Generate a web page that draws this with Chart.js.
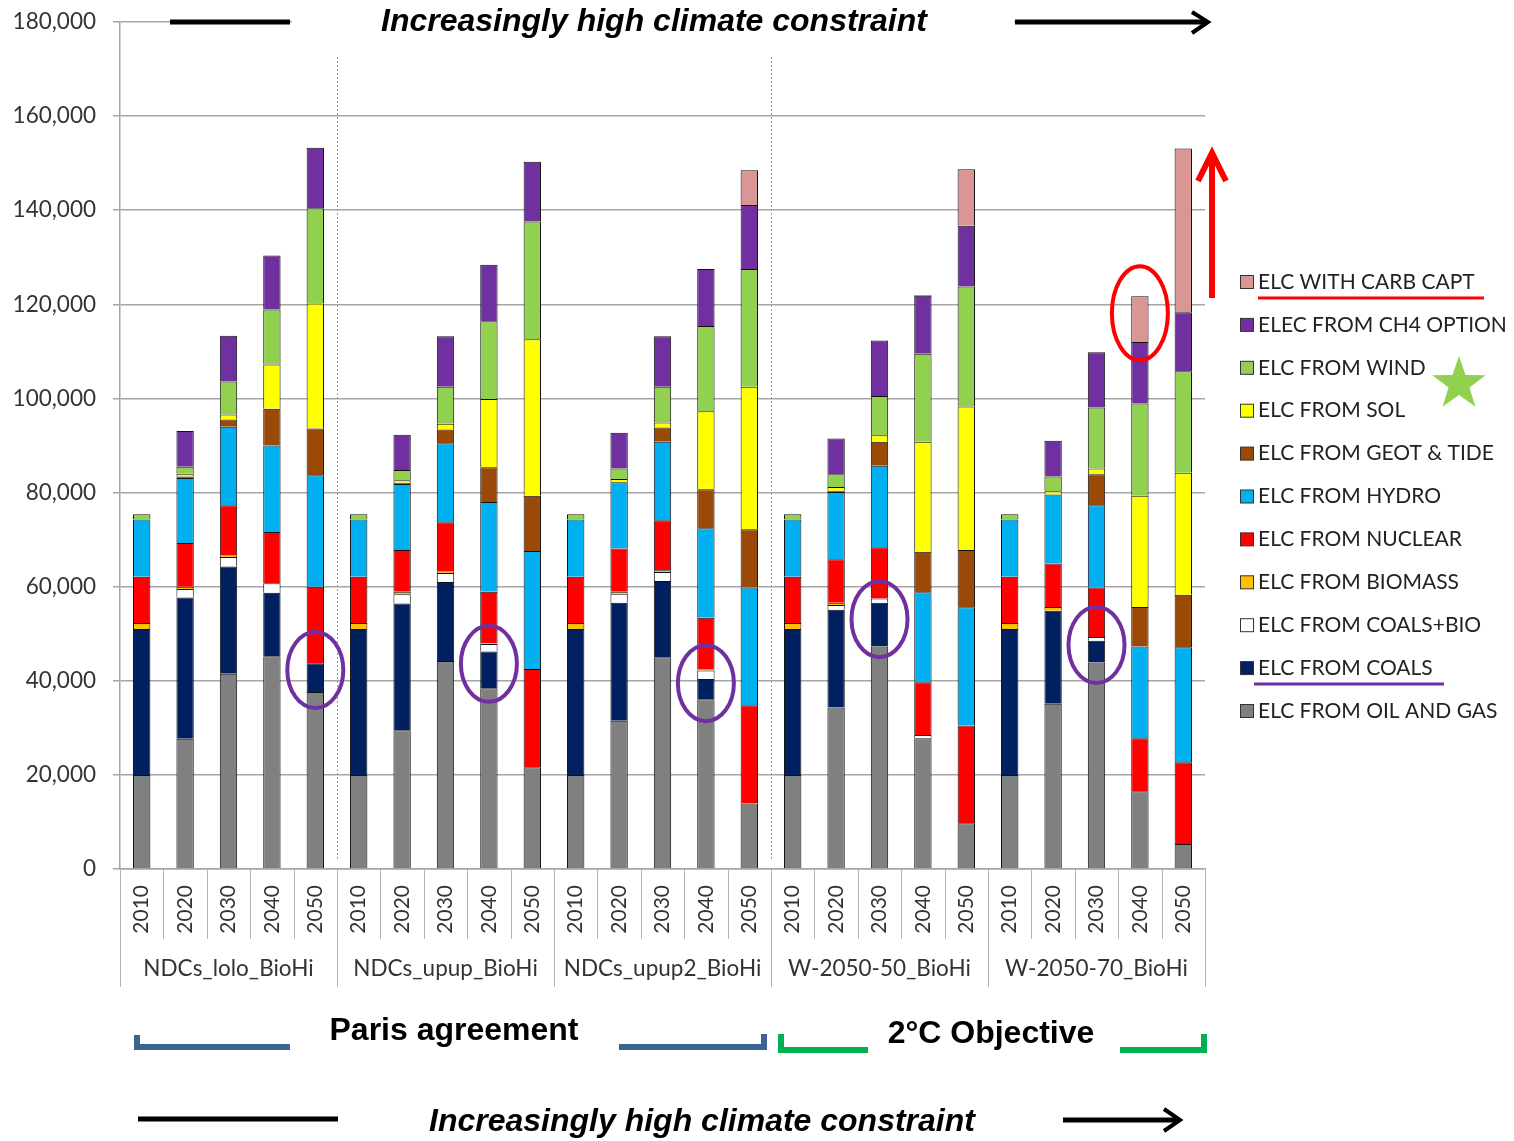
<!DOCTYPE html>
<html>
<head>
<meta charset="utf-8">
<script src="https://cdn.jsdelivr.net/npm/chart.js@4"></script>
<style>
  body { margin: 0; background: #fff; }
  #wrap { width: 1514px; height: 1141px; position: relative; }
</style>
</head>
<body>
<div id="wrap"><canvas id="c"></canvas></div>
<script>
// categories
const years = ['2010', '2020', '2030', '2040', '2050'];
const scenarios = ['NDCs_lolo_BioHi', 'NDCs_upup_BioHi', 'NDCs_upup2_BioHi', 'W-2050-50_BioHi', 'W-2050-70_BioHi'];

// y ticks
const yTicks = [0, 20000, 40000, 60000, 80000, 100000, 120000, 140000, 160000, 180000];

// series values, 5 years per scenario
const oilGas   = [20000, 27700, 41500, 45200, 37600,  20000, 29500, 44200, 38400, 21600,  20000, 31500, 45000, 36100, 13900,  20000, 34300, 47300, 27800, 9700,   20000, 35100, 43900, 16500, 5300];
const coals    = [31000, 30000, 22800, 13500, 6100,   31000, 26900, 16800, 7800, 0,       31000, 25100, 16200, 4300, 0,       31000, 20800, 9300, 0, 0,          31000, 19800, 4600, 0, 0];
const coalsBio = [0, 1800, 2000, 2000, 0,             0, 2000, 1900, 1600, 0,             0, 1900, 1900, 1800, 0,             0, 1000, 900, 700, 0,              0, 0, 800, 0, 0];
const biomass  = [1300, 500, 300, 0, 0,               1300, 500, 300, 200, 0,             1300, 400, 400, 200, 0,             1300, 500, 0, 0, 0,                1300, 800, 0, 0, 0];
const nuclear  = [9800, 9300, 10700, 10900, 16300,    9800, 8900, 10500, 10900, 20900,    9800, 9200, 10600, 11000, 20900,    9800, 9200, 10900, 11200, 20800,   9800, 9200, 10500, 11300, 17400];
const hydro    = [12200, 13800, 16700, 18400, 23700,  12200, 14000, 16800, 19100, 25100,  12200, 14100, 16700, 19000, 25000,  12200, 14300, 17300, 19100, 25100,  12200, 14700, 17500, 19500, 24400];
const geotTide = [0, 300, 1500, 7800, 9900,           0, 300, 2900, 7400, 11700,          0, 0, 3000, 8300, 12400,            0, 300, 5100, 8600, 12200,         0, 0, 6600, 8400, 11200];
const sol      = [0, 600, 1100, 9400, 26600,          0, 500, 1200, 14500, 33300,         0, 700, 1100, 16600, 30300,         0, 800, 1400, 23400, 30500,        0, 700, 1200, 23600, 25900];
const wind     = [1100, 1500, 7000, 11700, 20200,     1100, 2200, 7900, 16500, 25000,     1100, 2200, 7600, 18100, 25000,     1100, 2700, 8300, 18700, 25500,   1100, 3100, 13000, 19600, 21600];
const ch4      = [0, 7600, 9700, 11500, 12900,        0, 7500, 10700, 12000, 12700,       0, 7600, 10700, 12100, 13600,       0, 7600, 11800, 12300, 12900,      0, 7600, 11700, 13100, 12500];
const carbCapt = [0, 0, 0, 0, 0,                      0, 0, 0, 0, 0,                      0, 0, 0, 0, 7400,                   0, 0, 0, 200, 12000,               0, 0, 0, 9700, 34800];

const labels = scenarios.flatMap(() => years);

const series = [
  { label: 'ELC FROM OIL AND GAS', data: oilGas, color: '#808080' },
  { label: 'ELC FROM COALS', data: coals, color: '#002060' },
  { label: 'ELC FROM COALS+BIO', data: coalsBio, color: '#ffffff' },
  { label: 'ELC FROM BIOMASS', data: biomass, color: '#ffc000' },
  { label: 'ELC FROM NUCLEAR', data: nuclear, color: '#ff0000' },
  { label: 'ELC FROM HYDRO', data: hydro, color: '#00b0f0' },
  { label: 'ELC FROM GEOT & TIDE', data: geotTide, color: '#9a4a06' },
  { label: 'ELC FROM SOL', data: sol, color: '#ffff00' },
  { label: 'ELC FROM WIND', data: wind, color: '#92d050' },
  { label: 'ELEC FROM CH4 OPTION', data: ch4, color: '#7030a0' },
  { label: 'ELC WITH CARB CAPT', data: carbCapt, color: '#d99694' },
];

const axisFont = 'Lato, "Open Sans", sans-serif';
const boldFont = '"Liberation Sans", Arial, sans-serif';

function line(ctx, pts, color, w) {
  ctx.save();
  ctx.strokeStyle = color;
  ctx.lineWidth = w;
  ctx.lineJoin = 'miter';
  ctx.beginPath();
  pts.forEach((p, i) => i ? ctx.lineTo(p[0], p[1]) : ctx.moveTo(p[0], p[1]));
  ctx.stroke();
  ctx.restore();
}

function ellipse(ctx, cx, cy, rx, ry, color) {
  ctx.save();
  ctx.strokeStyle = color;
  ctx.lineWidth = 4;
  ctx.beginPath();
  ctx.ellipse(cx, cy, rx, ry, 0, 0, Math.PI * 2);
  ctx.stroke();
  ctx.restore();
}

const deco = {
  id: 'deco',
  beforeDatasetsDraw(chart) {
    const { ctx, chartArea, scales: { x } } = chart;
    const half = (x.getPixelForValue(1) - x.getPixelForValue(0)) / 2;
    // dotted separators between scenario families
    ctx.save();
    ctx.strokeStyle = '#999';
    ctx.lineWidth = 1;
    ctx.setLineDash([2, 2]);
    [5, 15].forEach(i => {
      const px = Math.round(x.getPixelForValue(i) - half) + 0.5;
      ctx.beginPath();
      ctx.moveTo(px, chartArea.top + 35);
      ctx.lineTo(px, chartArea.bottom - 8);
      ctx.stroke();
    });
    ctx.restore();
  },
  afterDraw(chart) {
    const { ctx, chartArea, scales: { x, y } } = chart;
    const half = (x.getPixelForValue(1) - x.getPixelForValue(0)) / 2;

    // category separators below the axis
    ctx.save();
    ctx.strokeStyle = '#b4b4b4';
    ctx.lineWidth = 1;
    for (let i = 0; i <= labels.length; i++) {
      const px = Math.round(x.getPixelForValue(i) - half) + 0.5;
      ctx.beginPath();
      ctx.moveTo(px, chartArea.bottom);
      ctx.lineTo(px, chartArea.bottom + (i % 5 === 0 ? 118 : 70));
      ctx.stroke();
    }
    ctx.restore();

    // scenario names
    ctx.save();
    ctx.font = '22.5px ' + axisFont;
    ctx.fillStyle = '#333';
    ctx.textAlign = 'center';
    ctx.textBaseline = 'middle';
    scenarios.forEach((s, g) => {
      const cx = (x.getPixelForValue(g * 5) + x.getPixelForValue(g * 5 + 4)) / 2;
      ctx.fillText(s, cx, chartArea.bottom + 100);
    });
    ctx.restore();

    // legend
    ctx.save();
    ctx.font = '21px ' + axisFont;
    ctx.textBaseline = 'middle';
    ctx.textAlign = 'left';
    const legendTop = 282, legendStep = 42.9;
    series.slice().reverse().forEach((s, i) => {
      const ly = legendTop + i * legendStep;
      ctx.fillStyle = s.color;
      ctx.fillRect(1240.5, ly - 6.5, 13, 13);
      ctx.strokeStyle = '#333';
      ctx.lineWidth = 1;
      ctx.strokeRect(1240.5, ly - 6.5, 13, 13);
      ctx.fillStyle = '#222';
      ctx.fillText(s.label, 1258, ly);
    });
    ctx.restore();
    line(ctx, [[1258, 298], [1484, 298]], '#ff0000', 3);
    line(ctx, [[1254, 684], [1444, 684]], '#7030a0', 3);

    // green star
    ctx.save();
    ctx.fillStyle = '#92d050';
    ctx.beginPath();
    for (let k = 0; k < 10; k++) {
      const r = k % 2 ? 11 : 28;
      const a = -Math.PI / 2 + k * Math.PI / 5;
      const px = 1459 + r * Math.cos(a), py = 384 + r * Math.sin(a);
      k ? ctx.lineTo(px, py) : ctx.moveTo(px, py);
    }
    ctx.closePath();
    ctx.fill();
    ctx.restore();

    // red arrow
    line(ctx, [[1212, 298], [1212, 154]], '#ff0000', 6);
    line(ctx, [[1198, 181], [1212, 153], [1226, 181]], '#ff0000', 6);

    // circles around highlighted bars
    [[4, 42300], [8, 43600], [13, 39500], [17, 53100], [22, 47600]].forEach(([i, v]) => {
      ellipse(ctx, x.getPixelForValue(i), y.getPixelForValue(v), 28, 38, '#7030a0');
    });
    ellipse(ctx, x.getPixelForValue(23), y.getPixelForValue(118100), 28, 47, '#ff0000');

    // top constraint banner
    ctx.save();
    ctx.fillStyle = '#fff';
    ctx.fillRect(292, 8, 722, 30);
    ctx.restore();
    line(ctx, [[170, 22], [290, 22]], '#000', 5);
    line(ctx, [[1015, 22], [1206, 22]], '#000', 5);
    line(ctx, [[1192, 12], [1208, 22], [1192, 33]], '#000', 4);
    ctx.save();
    ctx.font = 'italic bold 32px ' + boldFont;
    ctx.fillStyle = '#000';
    ctx.textAlign = 'center';
    ctx.textBaseline = 'middle';
    ctx.fillText('Increasingly high climate constraint', 654, 22);
    ctx.fillText('Increasingly high climate constraint', 702, 1122);
    ctx.font = 'bold 32px ' + boldFont;
    ctx.fillText('Paris agreement', 454, 1031);
    ctx.fillText('2°C Objective', 991, 1034);
    ctx.restore();

    // bottom constraint banner
    line(ctx, [[138, 1119], [338, 1119]], '#000', 5);
    line(ctx, [[1063, 1120], [1178, 1120]], '#000', 5);
    line(ctx, [[1164, 1109], [1180, 1120], [1164, 1131]], '#000', 4);

    // brackets
    line(ctx, [[137, 1035], [137, 1047], [290, 1047]], '#3d6391', 6);
    line(ctx, [[619, 1047], [764, 1047], [764, 1034]], '#3d6391', 6);
    line(ctx, [[781, 1034], [781, 1050], [868, 1050]], '#00b050', 6);
    line(ctx, [[1120, 1050], [1204, 1050], [1204, 1034]], '#00b050', 6);
  }
};

new Chart(document.getElementById('c'), {
  type: 'bar',
  data: {
    labels: labels,
    datasets: series.map(s => ({
      label: s.label,
      data: s.data,
      backgroundColor: s.color,
      borderColor: '#111',
      borderWidth: 1,
      barPercentage: 0.4,
      categoryPercentage: 1.0,
    })),
  },
  options: {
    responsive: true,
    maintainAspectRatio: false,
    animation: false,
    layout: { padding: { top: 22, right: 309, bottom: 0, left: 0 } },
    plugins: {
      legend: { display: false },
      tooltip: { enabled: false },
    },
    scales: {
      x: {
        stacked: true,
        offset: true,
        grid: { display: false, drawTicks: false },
        border: { display: true, color: '#a6a6a6', width: 1.5 },
        ticks: {
          autoSkip: false,
          maxRotation: 90,
          minRotation: 90,
          padding: 16,
          color: '#333',
          font: { family: axisFont, size: 21 },
        },
        afterFit(scale) { scale.height = 272; },
      },
      y: {
        stacked: true,
        min: 0,
        max: 180000,
        afterBuildTicks(scale) { scale.ticks = yTicks.map(v => ({ value: v })); },
        grid: { color: '#a6a6a6', lineWidth: 1.5, tickLength: 7 },
        border: { display: true, color: '#a6a6a6', width: 1.5 },
        ticks: {
          padding: 17,
          color: '#333',
          font: { family: axisFont, size: 22.5 },
          callback: v => v.toLocaleString('en-US'),
        },
        afterFit(scale) {
          scale.width = 120;
          scale.paddingTop = 0;
          scale.paddingBottom = 0;
        },
      },
    },
  },
  plugins: [deco],
});
</script>
</body>
</html>
